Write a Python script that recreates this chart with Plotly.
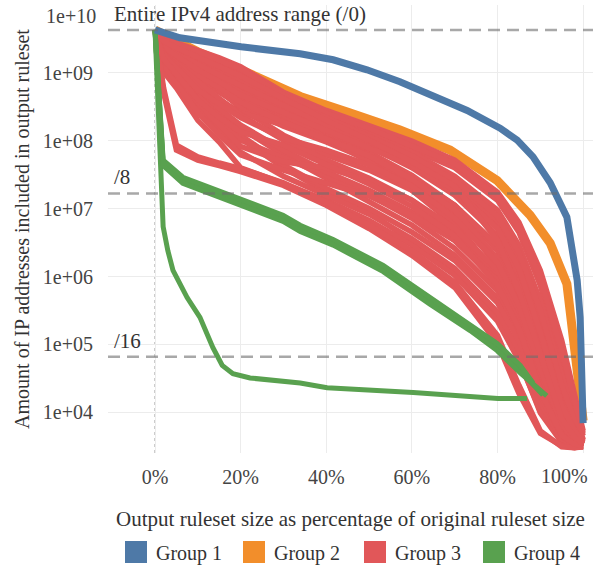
import math
import plotly.graph_objects as go

# ---------------- data ----------------
group_names = ["Group 1", "Group 2", "Group 3", "Group 4"]
group_colors = ["#4e79a7", "#f28e2b", "#e15759", "#59a14f"]

# Group 1 (blue)
g1_x = [0, 1.9, 5.8, 20.1, 33.9, 41.6, 49.5, 57.2, 64.9, 72.9, 80.6, 84.6, 88.3, 92.3, 96.2, 97.6, 98.6, 99.3, 100, 100]
g1_y = [4.29e9, 3.9e9, 3.29e9, 2.42e9, 1.91e9, 1.56e9, 1.11e9, 7.4e8, 4.7e8, 2.8e8, 1.53e8, 1.02e8, 5.8e7,
        2.4e7, 7.5e6, 2.4e6, 8.8e5, 2.5e5, 1.05e4, 6.9e3]

# Group 2 (orange)
g2_x = [0, 10, 20.1, 26.9, 33.9, 45.6, 57.2, 68.9, 79.9, 87.6, 92.3, 96.2, 98.1, 98.8, 99.5, 100]
g2_y = [4.29e9, 2.04e9, 1.11e9, 7.4e8, 4.5e8, 2.56e8, 1.44e8, 7.3e7, 2.6e7, 8.0e6, 3.1e6, 7.8e5,
        8.1e4, 3.2e4, 1.25e4, 7.5e3]

# Group 3 (red) - all rulesets share the same x grid
g3_x = [0, 2, 5, 10, 15, 20, 30, 40, 50, 60, 70, 80, 85, 90, 95, 98, 100]
g3_y = [
    [4.29e9, 3.29e9, 2.78e9, 2.19e9, 1.67e9, 1.23e9, 5.2e8, 2.8e8, 1.70e8, 9.9e7, 5.2e7, 1.75e7, 6.3e6, 1.23e6, 1.14e5, 1.75e4, 5.3e3],
    [4.29e9, 3.07e9, 2.50e9, 1.91e9, 1.46e9, 1.04e9, 4.2e8, 2.3e8, 1.39e8, 7.5e7, 4.0e7, 1.33e7, 4.5e6, 7.4e5, 5.8e4, 1.25e4, 4.5e3],
    [4.29e9, 2.87e9, 2.26e9, 1.67e9, 1.23e9, 8.7e8, 4.5e8, 2.4e8, 1.30e8, 6.8e7, 3.0e7, 9.5e6, 2.9e6, 4.4e5, 3.5e4, 8.9e3, 4.0e3],
    [4.29e9, 2.68e9, 2.04e9, 1.46e9, 1.04e9, 7.1e8, 3.6e8, 1.87e8, 1.02e8, 5.2e7, 2.2e7, 6.3e6, 1.73e6, 2.2e5, 1.75e4, 6.3e3, 3.8e3],
    [4.29e9, 2.50e9, 1.85e9, 1.23e9, 8.4e8, 5.6e8, 2.8e8, 1.53e8, 8.3e7, 4.0e7, 1.58e7, 4.0e6, 1.04e6, 1.14e5, 1.05e4, 4.9e3, 3.5e3],
    [4.29e9, 2.34e9, 1.67e9, 1.04e9, 6.7e8, 4.2e8, 2.2e8, 1.21e8, 6.8e7, 3.1e7, 1.12e7, 2.4e6, 5.3e5, 5.8e4, 7.5e3, 4.0e3, 3.3e3],
    [4.29e9, 2.19e9, 1.46e9, 8.4e8, 5.2e8, 3.3e8, 1.64e8, 9.6e7, 5.2e7, 2.35e7, 8.0e6, 1.46e6, 2.7e5, 2.9e4, 5.3e3, 3.5e3, 3.2e3],
    [4.29e9, 2.59e9, 1.79e9, 1.04e9, 5.6e8, 3.0e8, 1.21e8, 6.2e7, 3.7e7, 1.87e7, 5.7e6, 8.8e5, 1.6e5, 1.75e4, 4.2e3, 3.3e3, 3.2e3],
    [4.29e9, 2.04e9, 1.27e9, 6.7e8, 4.0e8, 2.6e8, 1.70e8, 1.09e8, 6.2e7, 2.8e7, 1.12e7, 2.9e6, 7.4e5, 8.1e4, 8.0e3, 4.3e3, 3.4e3],
    [4.29e9, 2.42e9, 1.73e9, 1.11e9, 7.9e8, 5.2e8, 2.4e8, 1.09e8, 4.9e7, 1.87e7, 6.3e6, 1.04e6, 2.2e5, 2.5e4, 4.9e3, 3.5e3, 3.2e3],
    [4.29e9, 3.18e9, 2.68e9, 2.04e9, 1.56e9, 1.15e9, 4.7e8, 2.56e8, 1.53e8, 8.6e7, 4.6e7, 1.53e7, 5.3e6, 9.4e5, 8.1e4, 1.48e4, 4.9e3],
    [4.29e9, 2.78e9, 2.19e9, 1.56e9, 1.11e9, 7.9e8, 4.0e8, 2.2e8, 1.13e8, 6.0e7, 2.6e7, 7.7e6, 2.25e6, 3.2e5, 2.5e4, 7.5e3, 3.9e3],
    [4.29e9, 2.59e9, 1.91e9, 1.31e9, 9.3e8, 6.5e8, 3.3e8, 1.70e8, 9.3e7, 4.6e7, 1.87e7, 5.1e6, 1.32e6, 1.6e5, 1.38e4, 5.5e3, 3.6e3],
    [4.29e9, 2.26e9, 1.56e9, 9.3e8, 6.0e8, 3.7e8, 1.87e8, 1.06e8, 6.0e7, 2.7e7, 9.5e6, 1.84e6, 3.7e5, 4.1e4, 6.3e3, 3.8e3, 3.3e3],
    [4.29e9, 2.19e9, 1.41e9, 7.4e8, 4.2e8, 2.4e8, 1.02e8, 5.2e7, 2.8e7, 1.33e7, 4.5e6, 1.04e6, 2.4e5, 2.9e4, 5.3e3, 3.5e3, 3.2e3],
    [4.29e9, 1.97e9, 1.23e9, 5.6e8, 2.8e8, 1.53e8, 6.2e7, 2.8e7, 1.33e7, 5.7e6, 2.05e6, 4.8e5, 1.14e5, 1.57e4, 4.3e3, 3.3e3, 3.2e3],
    [4.29e9, 1.73e9, 1.04e9, 4.2e8, 2.2e8, 1.09e8, 4.0e7, 1.75e7, 8.9e6, 3.4e6, 1.23e6, 2.4e5, 6.2e4, 9.8e3, 3.6e3, 3.1e3, 3.1e3],
    [4.29e9, 1.04e9, 6.0e8, 2.0e8, 9.6e7, 4.0e7, 2.35e7, 1.33e7, 6.7e6, 2.9e6, 1.04e6, 2.2e5, 5.8e4, 1.05e4, 3.8e3, 3.1e3, 3.1e3],
    [4.29e9, 1.46e9, 8.4e8, 3.0e8, 1.44e8, 6.8e7, 3.0e7, 1.58e7, 8.3e6, 3.6e6, 1.32e6, 3.0e5, 8.1e4, 1.38e4, 4.0e3, 3.2e3, 3.1e3],
    [4.29e9, 1.79e9, 1.11e9, 4.7e8, 2.4e8, 1.21e8, 4.4e7, 1.98e7, 1.01e7, 4.5e6, 1.73e6, 4.1e5, 1.14e5, 1.75e4, 4.5e3, 3.3e3, 3.2e3],
    [4.29e9, 1.67e9, 1.04e9, 4.0e8, 1.87e8, 1.02e8, 5.6e7, 3.1e7, 1.58e7, 7.2e6, 2.6e6, 6.2e5, 1.6e5, 2.25e4, 4.8e3, 3.4e3, 3.2e3],
    [4.29e9, 1.91e9, 1.27e9, 6.0e8, 3.0e8, 1.70e8, 7.3e7, 3.5e7, 1.87e7, 8.9e6, 3.4e6, 8.2e5, 2.1e5, 2.9e4, 5.3e3, 3.5e3, 3.3e3],
    [4.29e9, 1.31e9, 7.4e8, 2.6e8, 1.21e8, 6.2e7, 3.7e7, 2.4e7, 1.53e7, 8.0e6, 3.4e6, 8.8e5, 2.4e5, 3.5e4, 5.7e3, 3.6e3, 3.3e3],
    [4.29e9, 1.56e9, 9.3e8, 3.7e8, 1.70e8, 8.3e7, 4.9e7, 4.0e7, 2.6e7, 1.33e7, 5.1e6, 1.23e6, 3.2e5, 3.8e4, 6.1e3, 3.8e3, 3.3e3],
    [4.29e9, 5.2e8, 7.3e7, 5.2e7, 4.3e7, 3.5e7, 2.2e7, 1.12e7, 5.1e6, 2.05e6, 6.9e5, 1.03e5, 1.9e4, 4.9e3, 3.2e3, 3.0e3, 3.2e3],
    [4.29e9, 6.0e8, 8.6e7, 5.8e7, 4.7e7, 3.9e7, 2.4e7, 1.24e7, 5.7e6, 2.4e6, 8.2e5, 1.35e5, 2.5e4, 5.3e3, 3.1e3, 3.0e3, 3.1e3],
    [4.29e9, 2.42e9, 1.79e9, 1.11e9, 7.4e8, 4.7e8, 2.6e8, 1.44e8, 7.8e7, 4.3e7, 1.87e7, 5.1e6, 1.32e6, 1.49e5, 1.25e4, 5.3e3, 3.6e3],
    [4.29e9, 1.85e9, 1.19e9, 5.6e8, 3.48e8, 2.2e8, 1.09e8, 7.3e7, 4.4e7, 2.14e7, 7.2e6, 1.61e6, 3.7e5, 4.4e4, 6.6e3, 3.9e3, 3.3e3],
    [4.29e9, 1.61e9, 9.6e8, 4.0e8, 2.2e8, 1.35e8, 8.6e7, 4.4e7, 2.3e7, 1.08e7, 3.9e6, 7.4e5, 1.73e5, 2.1e4, 4.6e3, 3.4e3, 3.2e3],
    [4.29e9, 2.97e9, 2.34e9, 1.73e9, 1.27e9, 9.0e8, 4.2e8, 2.0e8, 1.02e8, 4.9e7, 2.14e7, 3.4e6, 6.2e5, 6.8e4, 8.0e3, 4.3e3, 3.4e3],
]

# Group 4 (green)
g4a_x = [0, 1.9, 3.0, 4.2, 7.5, 10.5, 13.5, 15.7, 18.2, 22.2, 33.9, 40.2, 60.3, 80.1, 86.9]
g4a_y = [4.29e9, 5.4e6, 2.4e6, 1.23e6, 4.9e5, 2.5e5, 9.0e4, 4.9e4, 3.7e4, 3.2e4, 2.7e4, 2.3e4, 1.95e4, 1.6e4, 1.6e4]
g4b_x = [0, 1.9, 6.5, 14.5, 22.2, 29.9, 33.9, 41.6, 53.3, 64.2, 73.6, 79.9, 85.3, 90.6]
g4b_y = [4.29e9, 4.7e7, 2.6e7, 1.67e7, 1.12e7, 7.2e6, 5.1e6, 3.2e6, 1.32e6, 4.4e5, 1.77e5, 9.0e4, 4.1e4, 1.8e4]
g4c_x = [0, 1.9, 6.5, 14.5, 22.2, 29.9, 33.9, 41.6, 53.3, 64.2, 73.6, 79.9, 85.3, 88.3]
g4c_y = [4.29e9, 5.2e7, 2.9e7, 1.87e7, 1.24e7, 8.0e6, 5.7e6, 3.5e6, 1.46e6, 4.9e5, 1.9e5, 1.03e5, 4.9e4, 2.7e4]
g4d_x = [0, 1.9, 6.5, 14.5, 22.2, 29.9, 33.9, 41.6, 53.3, 64.2, 73.6, 79.9, 85.3, 91.5]
g4d_y = [4.29e9, 4.3e7, 2.35e7, 1.53e7, 1.01e7, 6.5e6, 4.6e6, 2.9e6, 1.18e6, 3.9e5, 1.6e5, 8.1e4, 3.8e4, 1.75e4]

# reference lines
ref_values = [2 ** 32, 2 ** 24, 2 ** 16]
ref_labels = ["Entire IPv4 address range (/0)", "/8", "/16"]

x_ticks = [0, 20, 40, 60, 80, 100]
x_ticktext = ["0%", "20%", "40%", "60%", "80%", ""]
y_ticks = [1e4, 1e5, 1e6, 1e7, 1e8, 1e9, 1e10]
y_ticktext = ["1e+04", "1e+05", "1e+06", "1e+07", "1e+08", "1e+09", ""]

# ---------------- figure ----------------
FONT = "Liberation Serif"
W, H = 601, 567
ML, MR, MT, MB = 108, 8, 5, 114
PW, PH = W - ML - MR, H - MT - MB


def px_x(p):
    return (p - ML) / PW


def px_y(p):
    return (H - MB - p) / PH


fig = go.Figure()

fig.add_trace(go.Scatter(x=g2_x, y=g2_y, mode="lines", line=dict(color=group_colors[1], width=9),
                         showlegend=False, hoverinfo="skip"))
for ys in g3_y:
    fig.add_trace(go.Scatter(x=g3_x, y=ys, mode="lines", line=dict(color=group_colors[2], width=5.5),
                             showlegend=False, hoverinfo="skip"))
for xs, ys in [(g4a_x, g4a_y), (g4b_x, g4b_y), (g4c_x, g4c_y), (g4d_x, g4d_y)]:
    fig.add_trace(go.Scatter(x=xs, y=ys, mode="lines", line=dict(color=group_colors[3], width=5),
                             showlegend=False, hoverinfo="skip"))
fig.add_trace(go.Scatter(x=g1_x, y=g1_y, mode="lines", line=dict(color=group_colors[0], width=7),
                         showlegend=False, hoverinfo="skip"))

# dotted zero line
fig.add_shape(type="line", xref="x", yref="paper", x0=0, x1=0, y0=0, y1=1,
              line=dict(color="#aaaaaa", width=1.2, dash="dot"), layer="below")

for v, lab in zip(ref_values, ref_labels):
    fig.add_shape(type="line", xref="paper", yref="y", x0=0, x1=1, y0=v, y1=v,
                  line=dict(color="rgba(110,110,110,0.6)", width=2.5, dash="12px,7px"), layer="above")
    fig.add_annotation(xref="paper", yref="y", x=px_x(112), y=math.log10(v),
                       text=lab, showarrow=False, xanchor="left", yanchor="bottom", yshift=2,
                       font=dict(family=FONT, size=21, color="#333333"))

# edge tick labels kept inside the picture
fig.add_annotation(xref="paper", yref="paper", x=px_x(98), y=px_y(16), text="1e+10", showarrow=False,
                   xanchor="right", yanchor="middle", font=dict(family=FONT, size=20, color="#444444"))
fig.add_annotation(xref="paper", yref="paper", x=px_x(590), y=px_y(476), text="100%", showarrow=False,
                   xanchor="right", yanchor="middle", font=dict(family=FONT, size=20, color="#444444"))

# legend (colour squares + labels)
legend_sq_x = [125, 243, 364, 483]
for name, col, sx in zip(group_names, group_colors, legend_sq_x):
    fig.add_shape(type="rect", xref="paper", yref="paper", x0=px_x(sx), x1=px_x(sx + 22),
                  y0=px_y(563), y1=px_y(541), fillcolor=col, line=dict(width=0))
    fig.add_annotation(xref="paper", yref="paper", x=px_x(sx + 29), y=px_y(553), text=name,
                       showarrow=False, xanchor="left", yanchor="middle",
                       font=dict(family=FONT, size=20, color="#333333"))

fig.update_layout(
    width=W, height=H,
    margin=dict(l=ML, r=MR, t=MT, b=MB),
    paper_bgcolor="white", plot_bgcolor="white",
    font=dict(family=FONT, size=20, color="#333333"),
    showlegend=False,
    xaxis=dict(range=[-10.98, 102.3], tickvals=x_ticks, ticktext=x_ticktext, showgrid=True,
               gridcolor="#ececec", gridwidth=1.2, zeroline=False, showline=False, ticks="",
               automargin=False, ticklabelstandoff=10,
               tickfont=dict(family=FONT, size=20, color="#444444"),
               title=dict(text="Output ruleset size as percentage of original ruleset size",
                          standoff=24, font=dict(family=FONT, size=21, color="#333333"))),
    yaxis=dict(type="log", range=[3.40, 10.0], tickvals=y_ticks, ticktext=y_ticktext,
               showgrid=True, gridcolor="#ececec", gridwidth=1.2, zeroline=False, showline=False,
               ticks="", automargin=False, ticklabelstandoff=14,
               tickfont=dict(family=FONT, size=20, color="#444444"),
               title=dict(text="Amount of IP addresses included in output ruleset",
                          standoff=7, font=dict(family=FONT, size=20, color="#333333"))),
)

fig.write_html("out.html", config={"displayModeBar": False},
               post_script="document.body.style.margin='0';document.body.style.overflow='hidden';")
